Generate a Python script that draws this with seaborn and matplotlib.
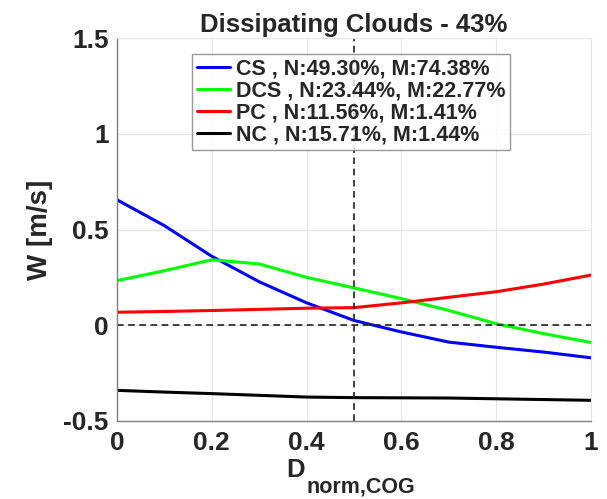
#!/usr/bin/env python3
import numpy as np
import pandas as pd
import seaborn as sns
import matplotlib.pyplot as plt

d_norm = [0.0, 0.1, 0.2, 0.3, 0.4, 0.5, 0.6, 0.7, 0.8, 0.9, 1.0]
w_cs = [0.655, 0.52, 0.36, 0.227, 0.117, 0.025, -0.035, -0.088, -0.115, -0.14, -0.17]
w_dcs = [0.233, 0.285, 0.342, 0.32, 0.25, 0.195, 0.139, 0.077, 0.008, -0.044, -0.09]
w_pc = [0.068, 0.072, 0.077, 0.083, 0.089, 0.092, 0.117, 0.146, 0.175, 0.215, 0.262]
w_nc = [-0.34, -0.349, -0.357, -0.366, -0.375, -0.378, -0.379, -0.38, -0.384, -0.388, -0.392]

groups = ["CS", "DCS", "PC", "NC"]
labels = ["CS , N:49.30%, M:74.38%", "DCS , N:23.44%, M:22.77%",
          "PC , N:11.56%, M:1.41%", "NC , N:15.71%, M:1.44%"]
colors = ["#0000ff", "#00ff00", "#ff0000", "#000000"]

df = pd.DataFrame({
    "D": d_norm * 4,
    "W": w_cs + w_dcs + w_pc + w_nc,
    "group": [g for g in groups for _ in d_norm],
})

sns.set_style("white")
plt.rcParams['font.family'] = ['Liberation Sans', 'DejaVu Sans']
plt.rcParams['font.weight'] = 'bold'

fig = plt.figure(figsize=(6.07, 4.99), dpi=100)
ax = fig.add_axes([117/607, 1-421/499, 474/607, 383/499])

sns.lineplot(data=df, x="D", y="W", hue="group", hue_order=groups,
             palette=colors, linewidth=2.2, ax=ax, legend=False)

ax.axhline(0, color="#222222", linestyle=(0, (4, 2.7)), linewidth=1.2)
ax.axvline(0.5, color="#222222", linestyle=(0, (4, 2.7)), linewidth=1.2)

ax.set_xlim(0, 1)
ax.set_ylim(-0.5, 1.5)
ax.set_xticks([0, 0.2, 0.4, 0.6, 0.8, 1])
ax.set_xticklabels(["0", "0.2", "0.4", "0.6", "0.8", "1"])
ax.set_yticks([-0.5, 0, 0.5, 1, 1.5])
ax.set_yticklabels(["-0.5", "0", "0.5", "1", "1.5"])
ax.tick_params(labelsize=19, direction="in", length=4, color="#555555")
ax.tick_params(axis="x", pad=7)
ax.tick_params(axis="y", pad=6)
for t in ax.get_xticklabels() + ax.get_yticklabels():
    t.set_fontweight("bold")
    t.set_color("#262626")
ax.grid(True, color="#e6e6e6", linewidth=0.8)
for s in ["left", "bottom"]:
    ax.spines[s].set_color("#808080")
    ax.spines[s].set_linewidth(1.0)
for s in ["top", "right"]:
    ax.spines[s].set_color("#e6e6e6")
    ax.spines[s].set_linewidth(0.8)

ax.set_title("Dissipating Clouds - 43%", fontsize=18.5, fontweight="bold", pad=4)
ax.set_ylabel("W [m/s]", fontsize=20, fontweight="bold", color="#262626")
ax.yaxis.set_label_coords(-0.135, 0.5)
ax.set_xlabel("")
# x label with a dropped subscript, as in the original
fig.text(286/607, 1-477/499, "D", fontsize=18.5, fontweight="bold",
         color="#262626", ha="left", va="baseline")
fig.text(306/607, 1-493/499, "norm,COG", fontsize=15.5, fontweight="bold",
         color="#262626", ha="left", va="baseline")

handles = [plt.Line2D([], [], color=c, linewidth=2.2) for c in colors]
leg = ax.legend(handles, labels, loc="upper left", bbox_to_anchor=(75/474, 0.958),
                prop={"size": 15.5, "weight": "bold"}, frameon=True, fancybox=False,
                handlelength=1.55, handletextpad=0.28, labelspacing=0.04,
                borderpad=0.22, borderaxespad=0)
leg.get_frame().set_edgecolor("#808080")
leg.get_frame().set_linewidth(1.0)

fig.savefig("out.png", dpi=100)
